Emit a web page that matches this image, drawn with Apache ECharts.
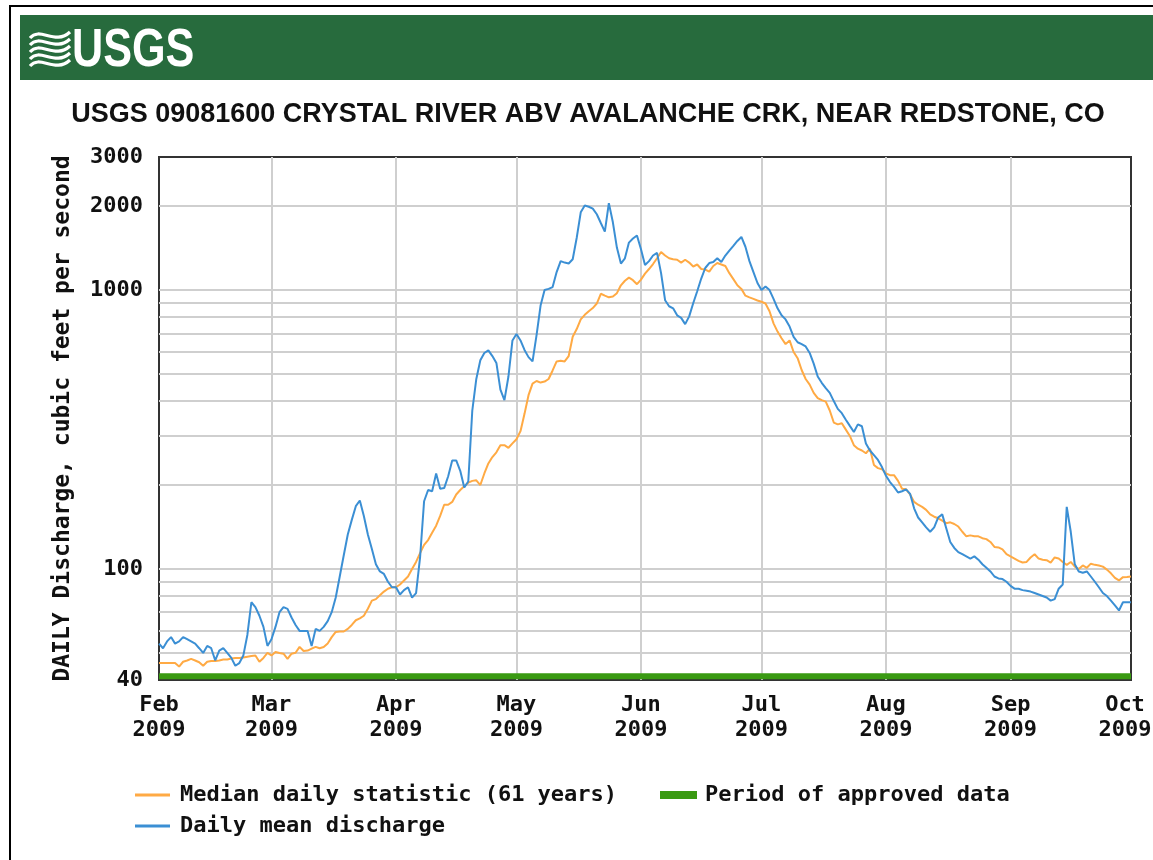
<!DOCTYPE html>
<html>
<head>
<meta charset="utf-8">
<title>USGS 09081600</title>
<script src="https://cdn.jsdelivr.net/npm/echarts@6.0.0/dist/echarts.min.js"></script>
<style>
  html, body { margin: 0; padding: 0; background: #fff; }
  #hydrograph { width: 1153px; height: 860px; }
</style>
</head>
<body>
<div id="hydrograph"></div>
<script>
// daily values, cfs, Feb 1 2009 .. Oct 1 2009
const meanCfs = [
  // Feb
  54, 52, 55, 57, 54, 55, 57, 56, 55, 54,
  52, 50, 53, 52, 47, 51, 52, 50, 48, 45,
  46, 49, 58, 76, 73, 68, 62, 53,
  // Mar
  56, 62, 70, 73, 72, 67, 63, 60, 60, 60,
  53, 61, 60, 62, 65, 70, 79, 94, 112, 133,
  150, 168, 176, 155, 133, 118, 104, 98, 96, 90,
  86,
  // Apr
  86, 81, 84, 86, 79, 82, 110, 175, 192, 190,
  220, 194, 195, 215, 245, 245, 225, 196, 206, 370,
  480, 560, 595, 608, 580, 548, 440, 403, 490, 660,
  // May
  696, 660, 610, 575, 555, 690, 880, 1000, 1010, 1025,
  1160, 1270, 1255, 1245, 1290, 1540, 1900, 2010, 1990, 1960,
  1870, 1740, 1620, 2050, 1750, 1420, 1245, 1300, 1480, 1530,
  1570,
  // Jun
  1400, 1230, 1270, 1330, 1360, 1150, 920, 875, 860, 812,
  795, 755, 805, 897, 990, 1100, 1200, 1250, 1260, 1300,
  1260, 1330, 1385, 1440, 1500, 1550, 1430, 1270, 1160, 1060,
  // Jul
  1000, 1030, 1000, 930, 860, 812, 785, 740, 680, 650,
  640, 628, 595, 545, 490, 465, 445, 428, 400, 375,
  362, 343, 326, 310, 330, 325, 282, 266, 256, 246,
  232,
  // Aug
  216, 205, 197, 188, 190, 193, 186, 165, 153, 147,
  141, 136, 141, 153, 157, 140, 125, 119, 115, 113,
  111, 109, 111, 108, 104, 101, 98, 94, 92.5, 92,
  90,
  // Sep
  87, 85, 85, 84, 83.5, 83, 82, 81, 80, 79,
  77, 78, 85, 88, 167, 136, 104, 98, 97, 98,
  94, 90, 86, 82, 80, 77, 74, 71, 76, 76,
  // Oct 1
  76
];

const medianCfs = [
  // Feb
  46, 46, 46, 46, 46, 44.7, 46.5, 47, 47.6, 47,
  46.3, 45, 46.5, 46.8, 46.8, 47, 47.4, 47.4, 47.8, 48,
  48, 48.2, 48.5, 48.8, 49, 46.5, 48, 50,
  // Mar
  49, 50.4, 50, 49.7, 47.6, 49.7, 50.1, 52.6, 50.8, 51,
  51.8, 52.6, 52, 52.5, 54.1, 57, 59.5, 59.7, 59.7, 61,
  63, 65.5, 66.5, 68, 72, 77, 78, 80.5, 83, 85,
  86,
  // Apr
  86, 88, 91, 94, 100, 106, 114, 122, 127, 135,
  143, 155, 170, 170, 174, 185, 192, 198, 204, 207,
  208, 200, 220, 239, 252, 262, 278, 278, 272, 282,
  // May
  292, 312, 360, 420, 462, 472, 466, 470, 480, 515,
  555, 558, 555, 580, 680, 725, 785, 815, 840, 862,
  895, 970, 955, 942, 948, 975, 1040, 1080, 1108, 1085,
  1050,
  // Jun
  1090, 1145, 1190, 1240, 1300, 1370, 1330, 1300, 1290, 1285,
  1255, 1285, 1255, 1215, 1235, 1190, 1185, 1165, 1220, 1250,
  1235, 1220, 1150, 1095, 1040, 1010, 955, 942, 930, 918,
  // Jul
  908, 895, 840, 760, 710, 672, 640, 660, 600, 570,
  517, 480, 458, 428, 410, 403, 398, 370, 335, 330,
  333, 316, 300, 278, 270, 266, 260, 270, 236, 230,
  228,
  // Aug
  220, 217, 217, 207, 194, 193, 185, 174, 170, 167,
  163, 157, 154, 152, 149, 146, 147, 145, 142, 136,
  131, 132, 131, 131, 129, 128, 125, 120, 119.5, 117.5,
  113,
  // Sep
  111, 109, 107, 105.5, 106, 110, 113, 109, 108, 107.5,
  105.5, 110, 109, 106, 103.5, 106, 102, 100, 103, 101,
  104.5, 103.5, 103, 102, 99.5, 96.5, 93, 91, 93.5, 93.6,
  // Oct 1
  94
];

const monthNames = ['Feb', 'Mar', 'Apr', 'May', 'Jun', 'Jul', 'Aug', 'Sep', 'Oct'];
const yearLabel = '2009';
const yLabelValues = [40, 100, 1000, 2000, 3000];
const yGridValues = [50, 60, 70, 80, 90, 100, 200, 300, 400, 500, 600, 700, 800, 900, 1000, 2000];
const approvedLevel = 41.3;

const MONO = "'DejaVu Sans Mono', 'Liberation Mono', monospace";

// one date per daily value, starting Feb 1
const days = meanCfs.map((v, i) => new Date(2009, 1, 1 + i).getTime());
const monthTicks = monthNames.map((m, i) => new Date(2009, 1 + i, 1).getTime());

var dom = document.getElementById('hydrograph');
var myChart = echarts.init(dom, null, { renderer: 'canvas' });

// gridlines drawn as marklines so the log axis gets 50..90, 200..900 too
let gridMarks = yGridValues.map(v => ({ yAxis: v }))
  .concat(monthTicks.slice(1, -1).map(t => ({ xAxis: t })));

// white waves of the logo
let waves = [0, 1, 2, 3, 4].map(k => ({
  type: 'bezierCurve',
  shape: {
    x1: 30, y1: 38 + k * 7,
    cpx1: 40, cpy1: 26 + k * 7,
    cpx2: 55, cpy2: 46 + k * 7,
    x2: 70, y2: 32 + k * 7
  },
  style: { stroke: '#fff', lineWidth: 3.2, fill: null }
}));

let legendText = { fontFamily: MONO, fontWeight: 'bold', fontSize: 22, color: '#111' };
let tickFont = { fontFamily: MONO, fontWeight: 'bold', fontSize: 22, lineHeight: 25, color: '#111' };

// month + year under each gridline; last one nudged left so it stays on the page
function monthLabel(v) {
  let i = monthTicks.indexOf(v);
  if (i === monthTicks.length - 1) {
    return '{edge|' + monthNames[i] + '}\n{edge|' + yearLabel + '}';
  }
  return monthNames[i] + '\n' + yearLabel;
}

let option = {
  animation: false,
  backgroundColor: '#fff',
  graphic: [
    { type: 'rect', shape: { x: 10, y: 6, width: 1160, height: 880 }, style: { fill: null, stroke: '#000', lineWidth: 2 } },
    { type: 'rect', shape: { x: 20, y: 15, width: 1150, height: 65 }, style: { fill: '#276b3d' } },
    { type: 'group', children: waves },
    {
      type: 'text', x: 72, y: 24, scaleX: 0.8,
      style: { text: 'USGS', fill: '#fff', font: "bold 54px 'Liberation Sans', Arial, sans-serif" }
    },
    {
      type: 'text', x: 588, y: 115,
      style: {
        text: 'USGS 09081600 CRYSTAL RIVER ABV AVALANCHE CRK, NEAR REDSTONE, CO',
        fill: '#111', align: 'center', verticalAlign: 'middle',
        font: "bold 27px 'Liberation Sans', Arial, sans-serif"
      }
    }
  ],
  grid: {
    left: 159, right: 22, top: 157, bottom: 180,
    outerBoundsMode: 'none',
    show: true, borderColor: '#333', borderWidth: 2, backgroundColor: '#fff'
  },
  legend: [
    {
      data: ['Median daily statistic (61 years)'],
      left: 135, top: 784, padding: 0, icon: 'rect', itemWidth: 35, itemHeight: 3,
      selectedMode: false, textStyle: Object.assign({ padding: [0, 0, 0, 5] }, legendText)
    },
    {
      data: ['Period of approved data'],
      left: 660, top: 784, padding: 0, icon: 'rect', itemWidth: 37, itemHeight: 8,
      selectedMode: false, textStyle: Object.assign({ padding: [0, 0, 0, 3] }, legendText)
    },
    {
      data: ['Daily mean discharge'],
      left: 135, top: 815, padding: 0, icon: 'rect', itemWidth: 35, itemHeight: 3,
      selectedMode: false, textStyle: Object.assign({ padding: [0, 0, 0, 5] }, legendText)
    }
  ],
  xAxis: {
    type: 'value',
    min: monthTicks[0],
    max: monthTicks[monthTicks.length - 1],
    axisLine: { show: false },
    axisTick: { show: false },
    splitLine: { show: false },
    axisLabel: Object.assign({
      customValues: monthTicks,
      formatter: monthLabel,
      margin: 13,
      hideOverlap: false,
      rich: { edge: Object.assign({ padding: [0, 12, 0, 0] }, tickFont) }
    }, tickFont)
  },
  yAxis: {
    type: 'log',
    logBase: 10,
    min: 40,
    max: 3000,
    name: 'DAILY Discharge, cubic feet per second',
    nameLocation: 'middle',
    nameRotate: 90,
    nameGap: 84,
    nameTextStyle: { fontFamily: MONO, fontWeight: 'bold', fontSize: 23, color: '#111' },
    axisLine: { show: false },
    axisTick: { show: false },
    splitLine: { show: false },
    axisLabel: {
      customValues: yLabelValues,
      formatter: v => String(Math.round(v)),
      fontFamily: MONO, fontWeight: 'bold', fontSize: 22, color: '#111', margin: 16
    }
  },
  series: [
    {
      type: 'line',
      data: [],
      silent: true,
      z: 1,
      markLine: {
        silent: true,
        z: 1,
        symbol: 'none',
        label: { show: false },
        lineStyle: { color: '#cfcfcf', width: 2, type: 'solid' },
        emphasis: { disabled: true },
        data: gridMarks
      }
    },
    {
      name: 'Period of approved data',
      type: 'line',
      color: '#3a9a12',
      data: [[monthTicks[0], approvedLevel], [monthTicks[monthTicks.length - 1], approvedLevel]],
      symbol: 'none',
      lineStyle: { width: 6, color: '#3a9a12' },
      z: 2
    },
    {
      name: 'Median daily statistic (61 years)',
      type: 'line',
      color: '#ffaa44',
      data: days.map((t, i) => [t, medianCfs[i]]),
      symbol: 'none',
      lineStyle: { width: 2, color: '#ffaa44' },
      z: 3
    },
    {
      name: 'Daily mean discharge',
      type: 'line',
      color: '#3b8fd4',
      data: days.map((t, i) => [t, meanCfs[i]]),
      symbol: 'none',
      lineStyle: { width: 2, color: '#3b8fd4' },
      z: 4
    }
  ]
};

myChart.setOption(option, true);
</script>
</body>
</html>
